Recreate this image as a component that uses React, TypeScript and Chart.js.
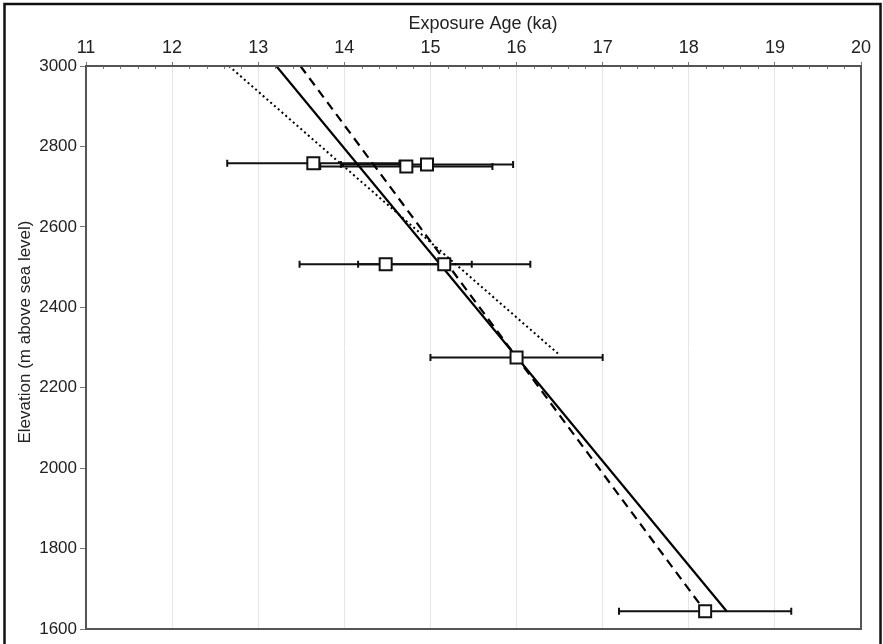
import React, { useEffect, useRef } from "react";
import { Chart, registerables } from "chart.js";

Chart.register(...registerables);

// Sample ages (ka), elevations (m), and 1-sigma age errors (ka)
const sampleAges = [13.64, 14.72, 14.96, 14.48, 15.16, 16.0, 18.19];
const sampleElev = [2758, 2750, 2755, 2507, 2507, 2275, 1644];
const ageErrors = [1.0, 1.0, 1.0, 1.0, 1.0, 1.0, 1.0];

// Regression lines: [age, elevation] end points
const solidLineAges = [13.21, 18.44];
const solidLineElev = [3000, 1644];
const dashedLineAges = [13.49, 18.19];
const dashedLineElev = [3000, 1644];
const dottedLineAges = [12.66, 16.48];
const dottedLineElev = [3000, 2285];

const xTicksMin = 11;
const xTicksMax = 20;
const yTicksMin = 1600;
const yTicksMax = 3000;

const xTitle = "Exposure Age (ka)";
const yTitle = "Elevation (m above sea level)";

const FONT = "'Liberation Sans', Arial, sans-serif";

const toPts = (xs: number[], ys: number[]) => xs.map((x, i) => ({ x, y: ys[i] }));

const errorBarPlugin = {
  id: "errorBars",
  beforeDatasetsDraw(chart: any) {
    const { ctx, scales } = chart;
    const xs = scales.x;
    const ys = scales.y;
    ctx.save();
    ctx.strokeStyle = "#111";
    ctx.lineWidth = 2;
    sampleAges.forEach((a, i) => {
      const y = ys.getPixelForValue(sampleElev[i]);
      const x1 = xs.getPixelForValue(a - ageErrors[i]);
      const x2 = xs.getPixelForValue(a + ageErrors[i]);
      ctx.beginPath();
      ctx.moveTo(x1, y);
      ctx.lineTo(x2, y);
      ctx.moveTo(x1, y - 3.5);
      ctx.lineTo(x1, y + 3.5);
      ctx.moveTo(x2, y - 3.5);
      ctx.lineTo(x2, y + 3.5);
      ctx.stroke();
    });
    ctx.restore();
  },
  afterDraw(chart: any) {
    const { ctx, chartArea, scales } = chart;
    ctx.save();
    // minor ticks on top axis
    ctx.strokeStyle = "#777";
    ctx.lineWidth = 1;
    for (let v = xTicksMin; v < xTicksMax; v += 1) {
      for (let k = 1; k < 5; k++) {
        const x = Math.round(scales.x.getPixelForValue(v + k * 0.2)) + 0.5;
        ctx.beginPath();
        ctx.moveTo(x, chartArea.top);
        ctx.lineTo(x, chartArea.top + 3);
        ctx.stroke();
      }
    }
    // plot frame
    ctx.strokeStyle = "#555";
    ctx.lineWidth = 2;
    ctx.strokeRect(chartArea.left, chartArea.top, chartArea.right - chartArea.left, chartArea.bottom - chartArea.top);
    // axis titles
    ctx.fillStyle = "#222";
    ctx.textAlign = "center";
    ctx.textBaseline = "middle";
    ctx.font = `18px ${FONT}`;
    ctx.fillText(xTitle, 483, 24);
    ctx.save();
    ctx.translate(25, 332);
    ctx.rotate(-Math.PI / 2);
    ctx.font = `17px ${FONT}`;
    ctx.fillText(yTitle, 0, 0);
    ctx.restore();
    // outer border
    ctx.strokeStyle = "#111";
    ctx.lineWidth = 2.5;
    ctx.strokeRect(4.5, 4, chart.width - 7, chart.height + 10);
    ctx.restore();
  },
};

export default function App() {
  const ref = useRef<HTMLCanvasElement | null>(null);
  useEffect(() => {
    document.body.style.margin = "0";
    const canvas = ref.current!;
    const chart = new Chart(canvas, {
      type: "scatter",
      data: {
        datasets: [
          {
            type: "line",
            data: toPts(solidLineAges, solidLineElev),
            borderColor: "#000",
            borderWidth: 2.2,
            pointRadius: 0,
            order: 2,
          },
          {
            type: "line",
            data: toPts(dashedLineAges, dashedLineElev),
            borderColor: "#000",
            borderWidth: 2.2,
            borderDash: [9, 6],
            pointRadius: 0,
            order: 2,
          },
          {
            type: "line",
            data: toPts(dottedLineAges, dottedLineElev),
            borderColor: "#000",
            borderWidth: 2,
            borderDash: [2, 3],
            pointRadius: 0,
            order: 2,
          },
          {
            type: "scatter",
            data: toPts(sampleAges, sampleElev),
            pointStyle: "rect",
            pointRadius: 8.5,
            pointBackgroundColor: "#fff",
            pointBorderColor: "#111",
            pointBorderWidth: 2,
            order: 0,
          },
        ],
      },
      options: {
        animation: false,
        responsive: false,
        maintainAspectRatio: false,
        layout: { padding: { left: 0, top: 0, right: 22, bottom: 15 } },
        plugins: { legend: { display: false }, tooltip: { enabled: false } },
        scales: {
          x: {
            type: "linear",
            position: "top",
            min: xTicksMin,
            max: xTicksMax,
            ticks: { stepSize: 1, color: "#222", font: { family: FONT, size: 18 }, padding: 3 },
            grid: { color: "#e6e6e6", tickColor: "#777", tickLength: 4, lineWidth: 1 },
            border: { display: false },
            afterFit: (s: any) => {
              s.height = 66;
            },
          },
          y: {
            type: "linear",
            position: "left",
            min: yTicksMin,
            max: yTicksMax,
            ticks: {
              stepSize: 200,
              color: "#222",
              font: { family: FONT, size: 17 },
              padding: 3,
              callback: (v: any) => String(v),
            },
            grid: { drawOnChartArea: false, tickColor: "#777", tickLength: 6 },
            border: { display: false },
            afterFit: (s: any) => {
              s.width = 86;
            },
          },
        },
      },
      plugins: [errorBarPlugin],
    });
    return () => chart.destroy();
  }, []);
  return (
    <div style={{ position: "absolute", left: 0, top: 0, width: 883, height: 644 }}>
      <canvas ref={ref} width={883} height={644} style={{ width: 883, height: 644 }} />
    </div>
  );
}
